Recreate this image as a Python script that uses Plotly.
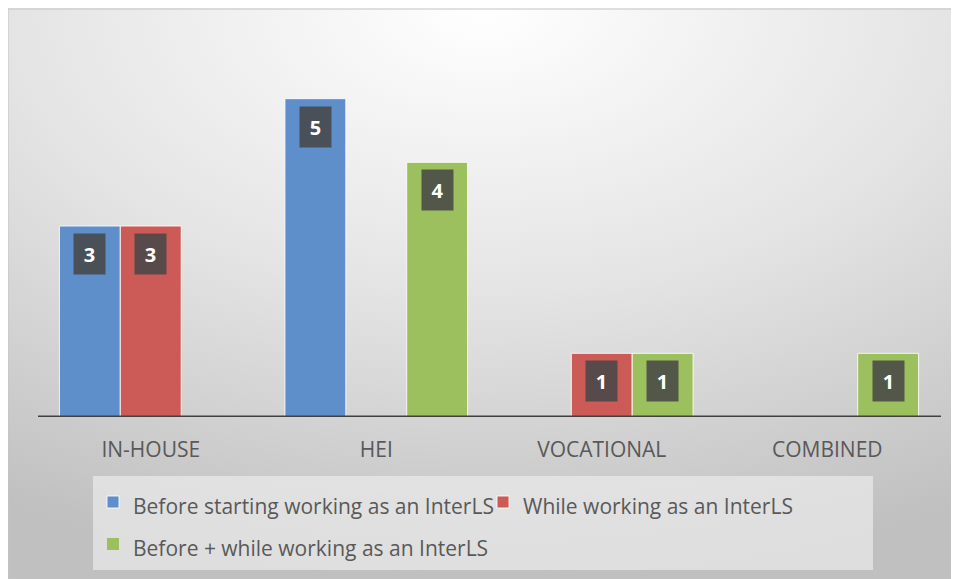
import base64
import plotly.graph_objects as go

# ── Data ────────────────────────────────────────────────────
categories = ["IN-HOUSE", "HEI", "VOCATIONAL", "COMBINED"]
series_names = [
    "Before starting working as an InterLS",
    "While working as an InterLS",
    "Before + while working as an InterLS",
]
before_vals = [3, 5, 0, 0]
while_vals = [3, 0, 1, 0]
both_vals = [0, 4, 1, 1]

# ── Style ───────────────────────────────────────────────────
BLUE = "#5F8FCA"
RED = "#CC5B58"
GREEN = "#9DC05F"
TEXT = "#595959"
FONT = "Open Sans, Lato, sans-serif"
OFF = 8                      # page body margin
W, H = 951, 571
L, R, T, B = 30, 19, 27, 162
BARGAP = 0.19

# radial grey gradient (Excel chart-area fill)
svg = (
    '<svg xmlns="http://www.w3.org/2000/svg" width="951" height="571" '
    'preserveAspectRatio="none" viewBox="0 0 951 571">'
    '<defs><radialGradient id="g" cx="50%" cy="0%" r="100%" fx="50%" fy="0%">'
    '<stop offset="0" stop-color="#ffffff"/>'
    '<stop offset="0.5" stop-color="#e4e4e4"/>'
    '<stop offset="1" stop-color="#c0c0c0"/>'
    '</radialGradient></defs>'
    '<rect width="951" height="571" fill="url(#g)"/></svg>'
)
bg_src = "data:image/svg+xml;base64," + base64.b64encode(svg.encode()).decode()

pw, ph = W - L - R, H - T - B


def px_x(x):
    # page pixel -> paper fraction
    return (x - OFF - L) / pw


fig = go.Figure()
for name, vals, col in zip(series_names, [before_vals, while_vals, both_vals],
                           [BLUE, RED, GREEN]):
    fig.add_trace(go.Bar(
        x=categories, y=vals,
        # small span inside a big legend font -> roomier legend rows
        name=f'<span style="font-size:21px">{name}</span>',
        marker=dict(color=col,
                    line=dict(color="rgba(255,255,255,0.85)",
                              width=[1 if v else 0 for v in vals])),
        hovertemplate=f"{name}<br>%{{x}}: %{{y}}<extra></extra>",
    ))

# data labels: dark boxes near bar tops
bw = (1 - BARGAP) / 3
anns = []
for i, vals in enumerate([before_vals, while_vals, both_vals]):
    for k, v in enumerate(vals):
        if v == 0:
            continue
        anns.append(dict(
            x=k + (i - 1) * bw, y=v, xref="x", yref="y",
            text=f"<b>{v}</b>", showarrow=False, yshift=-28,
            font=dict(color="white", size=20, family=FONT),
            bgcolor="rgba(72,72,72,0.88)", width=23, height=32, borderpad=4,
        ))

fig.update_layout(
    width=W, height=H,
    margin=dict(l=L, r=R, t=T, b=B, autoexpand=False),
    paper_bgcolor="white",
    plot_bgcolor="rgba(0,0,0,0)",
    font=dict(family=FONT, color=TEXT, size=21),
    barmode="group", bargap=BARGAP, bargroupgap=0,
    xaxis=dict(
        showline=False, ticks="outside", ticklen=14, tickcolor="rgba(0,0,0,0)",
        tickfont=dict(size=21, color=TEXT), showgrid=False, zeroline=False,
    ),
    yaxis=dict(range=[0, 6], visible=False, showgrid=False),
    legend=dict(
        orientation="h", xref="container", yref="container",
        x=(93 - OFF) / W, y=1 - (476 - OFF) / H, xanchor="left", yanchor="top",
        bgcolor="rgba(235,235,235,0.7)", font=dict(size=30, color=TEXT),
        entrywidth=345, traceorder="normal",
    ),
    annotations=anns,
    images=[dict(
        source=bg_src, xref="paper", yref="paper",
        x=-L / pw, y=(H - B) / ph, sizex=W / pw, sizey=H / ph,
        xanchor="left", yanchor="top", sizing="stretch", layer="below",
    )],
    shapes=[
        dict(type="rect", xref="paper", yref="paper",
             x0=-L / pw, x1=(W - L - 1) / pw, y0=-B / ph, y1=(H - B - 1) / ph,
             line=dict(color="#c4c4c4", width=1), layer="below"),
        dict(type="line", xref="paper", yref="y",
             x0=px_x(38), x1=px_x(941), y0=0, y1=0,
             line=dict(color="#404040", width=3), layer="above"),
    ],
)

fig.write_html("out.html")
